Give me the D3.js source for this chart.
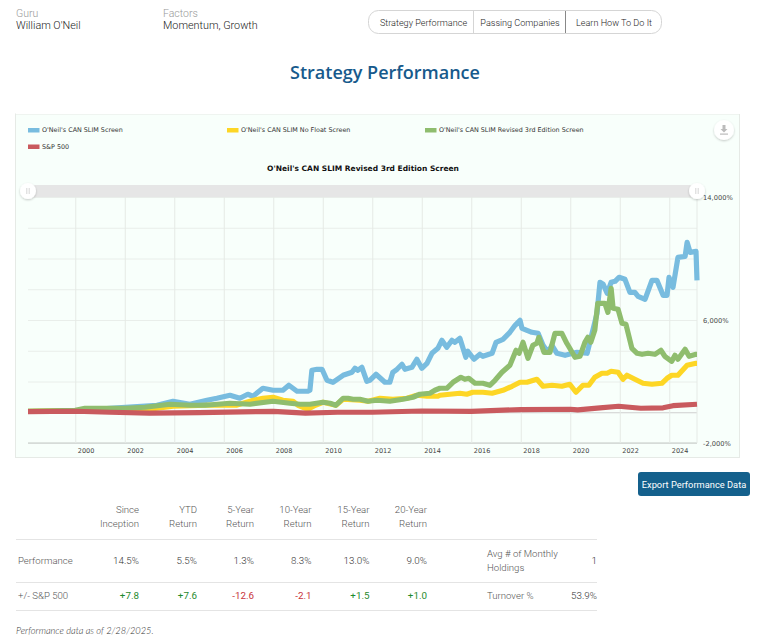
<!DOCTYPE html>
<html>
<head>
<meta charset="utf-8">
<title>Strategy Performance</title>
<script src="https://cdn.jsdelivr.net/npm/d3@7"></script>
<style>
  html, body { margin: 0; padding: 0; background: #fff; }
  svg { display: block; }
  text { font-family: Roboto, sans-serif; font-weight: 300; }
  .chartText text, text.chartText { font-family: "DejaVu Sans", sans-serif; font-weight: 400; }
</style>
</head>
<body>
<script>
// series as [year, return %]
var canSlim = [[1998.09,65],[2000,65],[2001.4,260],[2003.3,455],[2003.95,715],[2004.63,520],[2005.32,780],[2005.72,910],[2006.25,1105],[2006.65,910],[2006.97,1170],[2007.18,1040],[2007.58,1560],[2007.99,1430],[2008.39,1430],[2008.63,1755],[2008.96,1365],[2009.4,1365],[2009.48,1430],[2009.56,2730],[2009.77,2795],[2009.97,2795],[2010.17,2080],[2010.41,1950],[2010.82,2405],[2011.18,2600],[2011.3,2860],[2011.42,2730],[2011.58,2925],[2011.78,2015],[2011.9,2080],[2012.15,2470],[2012.51,1950],[2012.71,1950],[2012.83,2600],[2013,2795],[2013.2,3120],[2013.32,2795],[2013.6,2925],[2013.8,3445],[2014,2860],[2014.21,3185],[2014.41,3835],[2014.65,4160],[2014.81,4680],[2015.01,4225],[2015.22,4680],[2015.34,4550],[2015.54,4810],[2015.78,3575],[2015.86,3965],[2016.11,3445],[2016.35,3770],[2016.47,3640],[2016.84,3835],[2017,4550],[2017.28,4745],[2017.56,5200],[2017.77,5655],[2017.97,5980],[2018.05,5460],[2018.45,5200],[2018.7,5135],[2018.9,4355],[2019.1,3900],[2019.26,4355],[2019.46,3835],[2019.79,3705],[2020.27,3900],[2020.68,3835],[2020.88,5135],[2021.08,6435],[2021.2,8450],[2021.33,8320],[2021.49,7735],[2021.65,8450],[2021.81,8515],[2021.97,8775],[2022.21,8645],[2022.41,7800],[2022.61,7800],[2022.74,7540],[2023.02,7345],[2023.3,8580],[2023.5,8580],[2023.75,7605],[2023.91,7605],[2023.99,8775],[2024.15,8125],[2024.35,10075],[2024.64,10140],[2024.72,11050],[2024.84,10400],[2025.08,10465],[2025.12,8580]];

var noFloat = [[1998.09,65],[2000,100],[2002,130],[2003,195],[2003.95,390],[2005.3,455],[2006.5,455],[2007.2,780],[2007.58,910],[2007.99,975],[2008.39,780],[2008.8,715],[2009,455],[2009.4,195],[2009.7,455],[2010.01,650],[2010.53,455],[2010.82,845],[2011.5,780],[2011.83,715],[2012.31,910],[2012.83,845],[2013.4,910],[2013.8,1105],[2014.21,1040],[2014.65,1040],[2014.73,1105],[2015.54,1235],[2015.82,1170],[2016.06,1300],[2016.47,1300],[2016.84,1235],[2017.28,1430],[2017.65,1690],[2017.97,1950],[2018.25,1950],[2018.65,2145],[2018.9,1690],[2019.26,1755],[2019.66,1690],[2019.98,1820],[2020.23,1300],[2020.51,1755],[2020.75,1755],[2020.99,2275],[2021.28,2535],[2021.49,2535],[2021.65,2665],[2021.93,2600],[2022.13,2145],[2022.29,2405],[2022.61,2145],[2022.94,1885],[2023.3,1820],[2023.7,1885],[2023.91,2210],[2024.1,2405],[2024.35,2405],[2024.72,3055],[2025.08,3185],[2025.12,3185]];

var revised3rd = [[1998.09,65],[2000,130],[2000.39,260],[2001.4,260],[2002.01,260],[2002.82,325],[2003.83,520],[2004.63,455],[2005.24,455],[2006.25,585],[2007.06,520],[2007.99,715],[2008.67,585],[2009.08,520],[2009.48,520],[2010.01,650],[2010.29,585],[2010.53,455],[2010.82,910],[2011.02,910],[2011.22,845],[2011.5,845],[2011.83,715],[2012.19,780],[2012.71,715],[2013.24,845],[2013.64,975],[2013.92,1170],[2014.33,1235],[2014.53,1430],[2014.73,1560],[2015.01,1560],[2015.26,1950],[2015.58,2275],[2015.74,2145],[2015.9,2210],[2016.15,1885],[2016.47,1885],[2016.75,1755],[2016.96,2080],[2017.24,2600],[2017.56,3055],[2017.81,4030],[2017.93,3835],[2018.09,4550],[2018.29,3510],[2018.49,4355],[2018.65,4485],[2018.73,4875],[2018.94,3900],[2019.18,3900],[2019.38,5135],[2019.66,5135],[2019.86,4485],[2019.98,4160],[2020.19,3575],[2020.39,3640],[2020.59,4550],[2020.71,4875],[2020.83,4550],[2020.99,5330],[2021.11,7085],[2021.4,7085],[2021.52,6500],[2021.65,8060],[2021.73,6760],[2021.93,6695],[2022.09,5785],[2022.25,5720],[2022.49,4160],[2022.7,3835],[2022.9,3770],[2023.14,3835],[2023.42,3770],[2023.66,4030],[2023.82,3640],[2024.1,3315],[2024.23,3705],[2024.35,3445],[2024.64,4095],[2024.8,3640],[2025.08,3770],[2025.12,3770]];

var sp500 = [[1998.09,40],[2000,65],[2001.4,0],[2003,-60],[2005,-20],[2008,60],[2009.3,-60],[2010.6,0],[2012,0],[2014,80],[2016,60],[2018,175],[2020,195],[2020.3,150],[2021.2,280],[2021.95,390],[2022.85,260],[2023.75,290],[2024.15,425],[2025.12,520]];

var seriesNames = ["O'Neil's CAN SLIM Screen", "O'Neil's CAN SLIM No Float Screen", "O'Neil's CAN SLIM Revised 3rd Edition Screen", "S&P 500"];
var seriesData = [canSlim, noFloat, revised3rd, sp500];
var seriesColors = ["#78bcdf", "#fdd625", "#8fbd6e", "#c95a5e"];

// tick labels
var yearTicks = [2000,2002,2004,2006,2008,2010,2012,2014,2016,2018,2020,2022,2024];
var yGrid = [-2000,0,2000,4000,6000,8000,10000,12000,14000];
var yLabels = [-2000,6000,14000];

// table
var columnHeads = [["Since","Inception"],["YTD","Return"],["5-Year","Return"],["10-Year","Return"],["15-Year","Return"],["20-Year","Return"]];
var performance = ["14.5%","5.5%","1.3%","8.3%","13.0%","9.0%"];
var versusSp = ["+7.8","+7.6","-12.6","-2.1","+1.5","+1.0"];
var navItems = ["Strategy Performance","Passing Companies","Learn How To Do It"];

var pageW = 758, pageH = 640;

var svg = d3.select("body")
            .append("svg")
            .attr("width", pageW)
            .attr("height", pageH);

// header
function label(x, y, txt, size, color, anchor) {
    return svg.append("text")
              .attr("x", x)
              .attr("y", y)
              .attr("text-anchor", anchor || "start")
              .style("font-size", size + "px")
              .style("fill", color)
              .text(txt);
}

label(16, 17, "Guru", 10.5, "#999");
label(16, 29, "William O'Neil", 10.8, "#222");
label(163, 17, "Factors", 10.5, "#999");
label(163, 29, "Momentum, Growth", 10.8, "#222");

// nav buttons
svg.append("rect")
   .attr("x", 368.5).attr("y", 10.5)
   .attr("width", 293).attr("height", 23)
   .attr("rx", 10)
   .style("fill", "#fff")
   .style("stroke", "#d5d5d5");
svg.append("line").attr("x1", 473.5).attr("x2", 473.5).attr("y1", 11).attr("y2", 33).style("stroke", "#d5d5d5");
svg.append("line").attr("x1", 565.5).attr("x2", 565.5).attr("y1", 11).attr("y2", 33).style("stroke", "#888");
var navCenters = [423.5, 520, 614];
navItems.forEach(function(d, i) {
    label(navCenters[i], 25.5, d, 9.1, "#222", "middle");
});

label(385, 79, "Strategy Performance", 18, "#175a8c", "middle")
    .style("font-family", "'Open Sans', sans-serif")
    .style("font-weight", 600);

// chart panel
svg.append("rect")
   .attr("x", 15.5).attr("y", 114)
   .attr("width", 724).attr("height", 343.5)
   .style("fill", "#f8fffb")
   .style("stroke", "#e6eae6");
svg.append("rect").attr("x", 16).attr("y", 112).attr("width", 724).attr("height", 2).style("fill", "#fff");

var margin = {top: 197, right: 61, bottom: 197, left: 28};
var w = pageW - margin.left - margin.right;
var h = pageH - margin.top - margin.bottom;

var xScale = d3.scaleLinear().domain([1998.09, 2025.12]).range([0, w]);
var yScale = d3.scaleLinear().domain([-2000, 14000]).range([h + 0, 0]);

var chart = svg.append("g")
               .attr("class", "chartText")
               .attr("transform", "translate(" + margin.left + "," + margin.top + ")");

// right axis carries the horizontal grid
var yAxis = chart.append("g")
    .attr("transform", "translate(" + w + ",0)")
    .call(d3.axisRight(yScale)
            .tickValues(yGrid)
            .tickSize(-w)
            .tickPadding(6)
            .tickFormat(function(d) {
                if (yLabels.indexOf(d) < 0) return "";
                return d3.format(",")(d).replace("\u2212", "-") + "%";
            }));
yAxis.select(".domain").remove();
yAxis.selectAll("line").style("stroke", function(d) { return d === 0 ? "#cfcfcf" : "#e9eeea"; });
yAxis.selectAll("text").style("font-size", "6.7px").style("fill", "#444");

// bottom axis carries the vertical grid, labels sit right of the line
var xAxis = chart.append("g")
    .attr("transform", "translate(0," + h + ")")
    .call(d3.axisBottom(xScale)
            .tickValues(yearTicks)
            .tickSize(-h)
            .tickFormat(d3.format("d")));
xAxis.select(".domain").attr("d", "M0,0H" + w).style("stroke", "#c4c8c5");
xAxis.selectAll("line").style("stroke", "#e5eae6");
xAxis.selectAll("text")
     .attr("y", 5)
     .attr("dy", "0.71em")
     .attr("x", 2)
     .style("text-anchor", "start")
     .style("font-size", "6.5px")
     .style("fill", "#444");

// right edge of the plot
chart.append("line")
     .attr("x1", w).attr("x2", w)
     .attr("y1", 0).attr("y2", h)
     .style("stroke", "#e5eae6");

var linePath = d3.line()
                 .x(function(d) { return xScale(d[0]); })
                 .y(function(d) { return yScale(d[1]); });

chart.selectAll(".series")
     .data(seriesData)
     .enter()
     .append("path")
     .attr("class", "series")
     .attr("d", linePath)
     .style("fill", "none")
     .style("stroke", function(d, i) { return seriesColors[i]; })
     .style("stroke-width", 5.2)
     .style("stroke-linejoin", "round");

// range slider above the plot
var shadow = svg.append("defs").append("filter").attr("id", "soft")
                .attr("x", "-50%").attr("y", "-50%").attr("width", "200%").attr("height", "200%");
shadow.append("feDropShadow")
      .attr("dx", 0).attr("dy", 1).attr("stdDeviation", 1.2)
      .attr("flood-color", "#000").attr("flood-opacity", 0.22);

svg.append("rect")
   .attr("x", margin.left).attr("y", 185)
   .attr("width", w).attr("height", 12)
   .style("fill", "#e6e6e6");

[0, w].forEach(function(px) {
    var cx = margin.left + px;
    svg.append("circle").attr("cx", cx).attr("cy", 191).attr("r", 8)
       .attr("filter", "url(#soft)").style("fill", "#fff");
    [-1.2, 1.2].forEach(function(off) {
        svg.append("line")
           .attr("x1", cx + off).attr("x2", cx + off)
           .attr("y1", 188).attr("y2", 194)
           .style("stroke", "#ccc").style("stroke-width", 0.8);
    });
});

// export icon
svg.append("circle").attr("cx", 724).attr("cy", 130).attr("r", 10)
   .attr("filter", "url(#soft)").style("fill", "#fff");
svg.append("path")
   .attr("d", "M722.5,125h3v4h2l-3.5,3.5l-3.5,-3.5h2z")
   .style("fill", "#bbb");
svg.append("rect").attr("x", 720).attr("y", 133.5).attr("width", 8).attr("height", 1.2).style("fill", "#bbb");

// legend
var legendX = [28, 227, 425, 28];
var legendY = [130, 130, 130, 146.5];
var legend = svg.selectAll(".legendItem")
    .data(seriesNames)
    .enter()
    .append("g")
    .attr("class", "legendItem chartText")
    .attr("transform", function(d, i) { return "translate(" + legendX[i] + "," + legendY[i] + ")"; });
legend.append("rect")
      .attr("y", -2).attr("width", 11.5).attr("height", 4.5)
      .style("fill", function(d, i) { return seriesColors[i]; });
legend.append("text")
      .attr("x", 14)
      .attr("dy", "0.32em")
      .style("font-size", "6.4px")
      .style("fill", "#333")
      .text(function(d) { return d; });

label(363, 171, "O'Neil's CAN SLIM Revised 3rd Edition Screen", 7.5, "#111", "middle")
    .attr("class", "chartText")
    .style("font-weight", "bold");

// export button
svg.append("rect")
   .attr("x", 638).attr("y", 472)
   .attr("width", 112).attr("height", 24)
   .attr("rx", 3)
   .style("fill", "#14608c");
label(694, 488, "Export Performance Data", 9.3, "#fff", "middle")
    .style("font-weight", 400);

// performance table
var colRight = [139, 197, 254, 311.5, 369.5, 427];
columnHeads.forEach(function(d, i) {
    label(colRight[i], 513, d[0], 9.6, "#555", "end");
    label(colRight[i], 527, d[1], 9.6, "#555", "end");
    label(colRight[i], 564, performance[i], 9.8, "#333", "end");
    label(colRight[i], 599, versusSp[i], 9.8, versusSp[i][0] === "+" ? "#1f8a2e" : "#c8323c", "end")
        .style("font-weight", 400);
});

[539, 582, 610].forEach(function(ly) {
    svg.append("line")
       .attr("x1", 16).attr("x2", 597)
       .attr("y1", ly + 0.5).attr("y2", ly + 0.5)
       .style("stroke", "#e4e4e4");
});

label(18, 564, "Performance", 9.6, "#555");
label(18, 599, "+/- S&P 500", 9.6, "#555");
label(487, 557, "Avg # of Monthly", 9.6, "#555");
label(487, 571, "Holdings", 9.6, "#555");
label(597, 564, "1", 9.8, "#333", "end");
label(487, 599, "Turnover %", 9.6, "#555");
label(597, 599, "53.9%", 9.8, "#333", "end");

label(16, 634, "Performance data as of 2/28/2025.", 9.3, "#333")
    .style("font-family", "Lato, sans-serif")
    .style("font-style", "italic");
</script>
</body>
</html>
